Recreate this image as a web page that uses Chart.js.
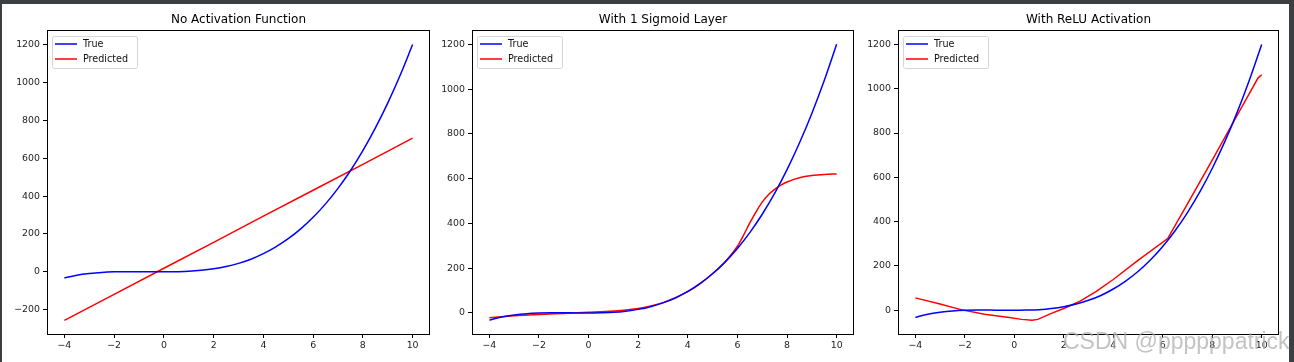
<!DOCTYPE html>
<html>
<head>
<meta charset="utf-8">
<script src="https://cdn.jsdelivr.net/npm/chart.js@4.4.1/dist/chart.umd.min.js"></script>
<style>
  body { margin: 0; width: 1294px; height: 362px; overflow: hidden; position: relative; background: #3c3f41; }
  #panel { position: absolute; left: 2px; top: 4px; width: 1287px; height: 358px; background: #fff; }
  canvas { position: absolute; top: 0; }
  #mark { position: absolute; left: 1063px; top: 330px; font: 23px "Liberation Sans", Arial, sans-serif; line-height: 23px;
          color: rgba(175, 175, 175, 0.75); white-space: nowrap; pointer-events: none; }
</style>
</head>
<body>
<div id="panel"></div>
<canvas id="c1" width="440" height="362" style="left:0px"></canvas>
<canvas id="c2" width="424" height="362" style="left:440px"></canvas>
<canvas id="c3" width="425" height="362" style="left:864px"></canvas>
<div id="mark">CSDN @ppppppatrick</div>
<script>
// ---- data ----
const titles = ["No Activation Function", "With 1 Sigmoid Layer", "With ReLU Activation"];
const seriesNames = ["True", "Predicted"];

// true curve (same in all three panels)
const trueX = [-4, -3.5, -3, -2.5, -2, -1.5, -1, -0.5, 0, 0.5, 1, 1.5, 2, 2.5, 3, 3.5, 4, 4.5, 5, 5.5, 6, 6.5, 7, 7.5, 8, 8.5, 9, 9.5, 10];
const trueY = [-32, -18, -9, -3, 0, 1, 1, 0, 0, 1, 3, 8, 16, 28, 45, 67, 96, 132, 175, 227, 288, 359, 441, 534, 640, 759, 891, 1038, 1200];

// no activation: straight line
const predLinX = [-4, -2, 0, 2, 4, 6, 8, 10];
const predLinY = [-256, -119, 19, 156, 294, 431, 568, 706];

// one sigmoid layer
const predSigX = [-4, -3, -2, -1, 0, 1, 2, 3, 4, 4.5, 5, 5.5, 6, 6.25, 6.5, 6.75, 7, 7.25, 7.5, 7.75, 8, 8.5, 9, 9.5, 10];
const predSigY = [-21, -13, -7, -2, 3, 9, 20, 46, 95, 131, 176, 228, 298, 348, 402, 452, 495, 528, 552, 571, 585, 604, 614, 619, 621];

// relu
const predReluX = [-4, -3, -2.16, -1.2, -0.2, 0.3, 0.72, 0.95, 1.5, 2, 2.66, 3.3, 4, 5, 6.2, 7, 8, 9, 9.85, 10];
const predReluY = [56, 28, 3, -18, -33, -41, -45, -41, -14, 8, 41, 84, 139, 225, 324, 480, 678, 878, 1048, 1063];

// tick labels
const xTicks = [-4, -2, 0, 2, 4, 6, 8, 10];
const yTicks1 = [-200, 0, 200, 400, 600, 800, 1000, 1200];
const yTicks23 = [0, 200, 400, 600, 800, 1000, 1200];

const pts = (xs, ys) => xs.map((x, i) => ({ x: x, y: ys[i] }));
const minus = v => (v < 0 ? "\u2212" + Math.abs(v) : String(v));
const FONT = "DejaVu Sans";

// frame around the axes + matplotlib-like legend in upper left
const framePlugin = {
  id: "frame",
  afterDatasetsDraw(chart) {
    const { ctx, chartArea: a } = chart;
    ctx.save();
    ctx.strokeStyle = "#000";
    ctx.lineWidth = 1;
    ctx.strokeRect(Math.floor(a.left) + 0.5, Math.floor(a.top) + 0.5,
      Math.round(a.right - a.left) - 1, Math.round(a.bottom - a.top));

    // legend
    ctx.font = "9.6px " + FONT;
    const ds = chart.data.datasets;
    let tw = 0;
    ds.forEach(d => { tw = Math.max(tw, ctx.measureText(d.label).width); });
    const bx = a.left + 5.5, by = a.top + 6.5, bw = 36 + tw + 4, bh = 32;
    ctx.beginPath();
    ctx.roundRect(bx, by, bw, bh, 2);
    ctx.fillStyle = "rgba(255,255,255,0.8)";
    ctx.fill();
    ctx.strokeStyle = "#d6d6d6";
    ctx.stroke();
    ds.forEach((d, i) => {
      const y = a.top + 14 + i * 15;
      ctx.beginPath();
      ctx.moveTo(a.left + 8, y);
      ctx.lineTo(a.left + 30, y);
      ctx.strokeStyle = d.borderColor;
      ctx.lineWidth = 1.5;
      ctx.stroke();
      ctx.fillStyle = "#111";
      ctx.textBaseline = "middle";
      ctx.fillText(d.label, a.left + 36, y + 0.5);
    });
    ctx.restore();
  }
};

function makeChart(id, title, predX, predY, predSmooth, yTicks, yMin, yMax, axisW) {
  return new Chart(document.getElementById(id), {
    type: "line",
    data: {
      datasets: [
        {
          label: seriesNames[0],
          data: pts(trueX, trueY),
          borderColor: "#0000ff",
          borderWidth: 1.5,
          pointRadius: 0,
          cubicInterpolationMode: "monotone",
        },
        {
          label: seriesNames[1],
          data: pts(predX, predY),
          borderColor: "#ff0000",
          borderWidth: 1.5,
          pointRadius: 0,
          cubicInterpolationMode: predSmooth ? "monotone" : "default",
          tension: 0,
        },
      ],
    },
    options: {
      responsive: false,
      animation: false,
      devicePixelRatio: 1,
      layout: { padding: { left: 0, right: 10, top: 0, bottom: 0 } },
      plugins: {
        legend: { display: false },
        tooltip: { enabled: false },
        title: {
          display: true,
          text: title,
          fullSize: false,
          color: "#000",
          font: { family: FONT, size: 12, weight: "normal" },
          padding: { top: 12.8, bottom: 2.8 },
        },
      },
      scales: {
        x: {
          type: "linear",
          min: -4.7,
          max: 10.7,
          afterBuildTicks: s => { s.ticks = xTicks.map(v => ({ value: v })); },
          afterFit: s => { s.height = 28; },
          ticks: {
            color: "#222",
            font: { family: FONT, size: 9.4 },
            padding: 2,
            autoSkip: false,
            maxRotation: 0,
            callback: minus,
          },
          grid: { drawOnChartArea: false, tickLength: 4, tickColor: "#000" },
          border: { display: false },
        },
        y: {
          type: "linear",
          min: yMin,
          max: yMax,
          afterBuildTicks: s => { s.ticks = yTicks.map(v => ({ value: v })); },
          afterFit: s => { s.width = axisW; },
          ticks: {
            color: "#222",
            font: { family: FONT, size: 9.4 },
            padding: 3,
            callback: minus,
          },
          grid: { drawOnChartArea: false, tickLength: 4, tickColor: "#000" },
          border: { display: false },
        },
      },
    },
    plugins: [framePlugin],
  });
}

makeChart("c1", titles[0], predLinX, predLinY, false, yTicks1, -328, 1277, 47);
makeChart("c2", titles[1], predSigX, predSigY, true, yTicks23, -94, 1264, 32);
makeChart("c3", titles[2], predReluX, predReluY, false, yTicks23, -107, 1265, 34);
</script>
</body>
</html>
